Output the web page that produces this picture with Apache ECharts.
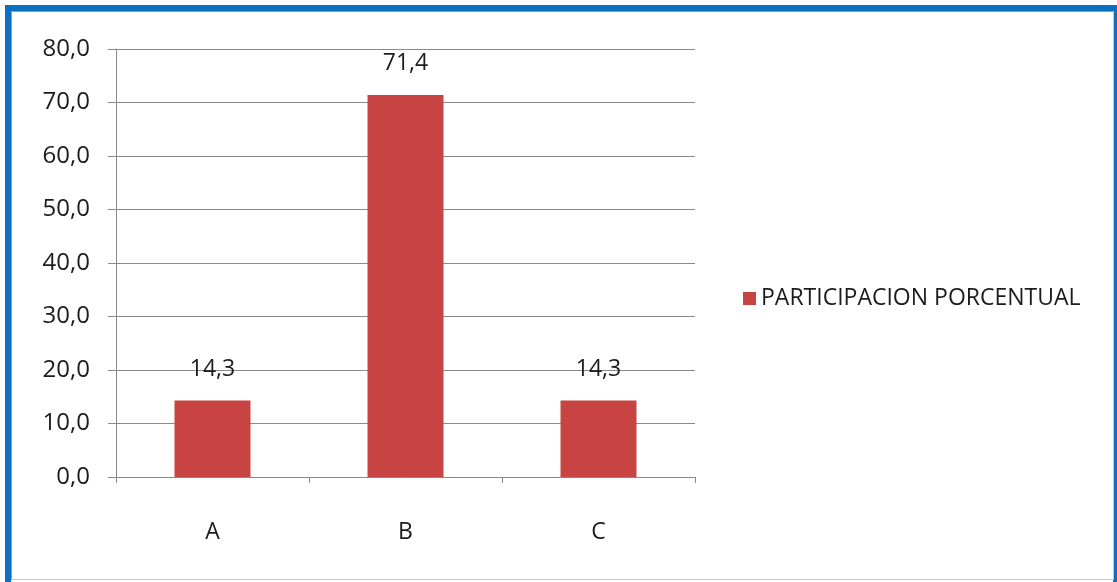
<!DOCTYPE html>
<html>
<head>
<meta charset="utf-8">
<script src="https://cdn.jsdelivr.net/npm/echarts@6/dist/echarts.min.js"></script>
<style>
  html, body { margin: 0; padding: 0; background: #ffffff; }
  #wrap { position: relative; width: 1117px; height: 582px; overflow: hidden; background: #ffffff; }
  #frame { position: absolute; left: 5px; top: 5px; width: 1102px; height: 600px;
           border-left: 6px solid #0A70C2; border-top: 6px solid #0A70C2; border-right: 4px solid #0A70C2; }
  #inner { position: absolute; left: 11px; top: 11px; width: 1101px; height: 567px;
           border-left: 1px solid #9a9a9a; border-top: 1px solid #9a9a9a; border-right: 1px solid #c8c8c8; border-bottom: 1px solid #c8c8c8; }
  #chart { position: absolute; left: 0; top: 0; width: 1117px; height: 582px; }
</style>
</head>
<body>
<div id="wrap">
  <div id="frame"></div>
  <div id="inner"></div>
  <div id="chart"></div>
</div>
<script>
const categories = ['A', 'B', 'C'];
const seriesName = 'PARTICIPACION PORCENTUAL';
const values = [14.3, 71.4, 14.3];
const yTicks = [0, 10, 20, 30, 40, 50, 60, 70, 80];

const fmt = v => Number(v).toFixed(1).replace('.', ',');
const FONT = '"Open Sans", sans-serif';

const chart = echarts.init(document.getElementById('chart'), null, { renderer: 'canvas' });
chart.setOption({
  backgroundColor: 'transparent',
  animation: false,
  grid: { left: 116, top: 49, width: 579, height: 428, containLabel: false },
  legend: {
    data: [seriesName],
    orient: 'vertical',
    left: 738, top: 282,
    itemWidth: 13, itemHeight: 13, itemGap: 10,
    icon: 'rect',
    textStyle: { fontFamily: FONT, fontSize: 23, color: '#1c1c1c' }
  },
  xAxis: {
    type: 'category',
    data: categories,
    axisLine: { show: true, lineStyle: { color: '#8a8a8a', width: 1 } },
    axisTick: { show: true, alignWithLabel: false, length: 6, lineStyle: { color: '#8a8a8a' } },
    axisLabel: { margin: 44, fontFamily: FONT, fontSize: 23, color: '#1c1c1c' }
  },
  yAxis: {
    type: 'value',
    min: yTicks[0], max: yTicks[yTicks.length - 1], interval: 10,
    axisLine: { show: true, lineStyle: { color: '#8a8a8a', width: 1 } },
    axisTick: { show: true, length: 8, lineStyle: { color: '#8a8a8a' } },
    splitLine: { show: true, lineStyle: { color: '#8a8a8a', width: 1 } },
    axisLabel: { margin: 26, fontFamily: FONT, fontSize: 24, color: '#1c1c1c', formatter: fmt }
  },
  series: [{
    name: seriesName,
    type: 'bar',
    data: values,
    barWidth: 76,
    itemStyle: { color: '#C84442' },
    label: { show: true, position: 'top', distance: 20, fontFamily: FONT, fontSize: 23, color: '#1c1c1c', formatter: p => fmt(p.value) }
  }]
});
</script>
</body>
</html>
